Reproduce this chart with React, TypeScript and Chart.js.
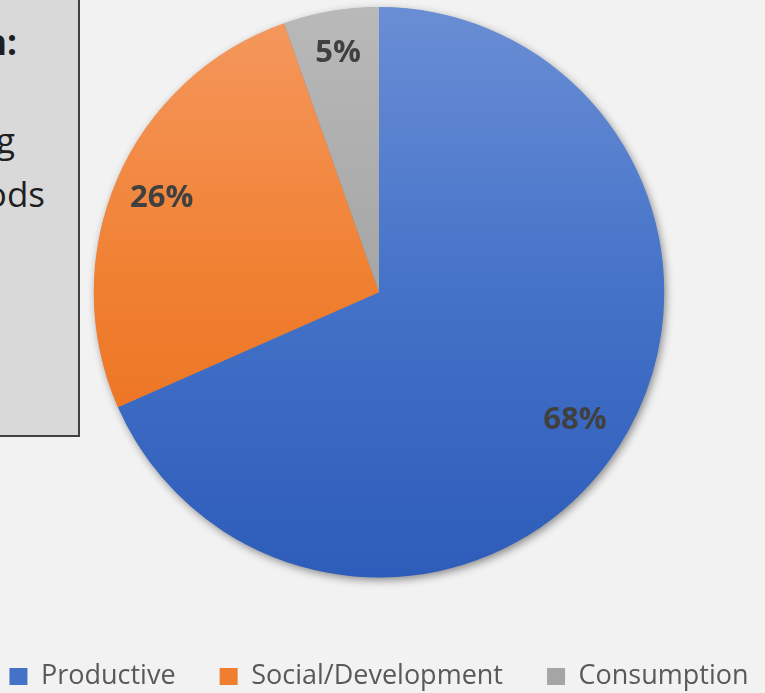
import React, { useEffect, useRef } from "react";
import { Chart, registerables } from "chart.js";

Chart.register(...registerables);

const categories = ["Productive", "Social/Development", "Consumption"];
const shares = [68.4, 26.2, 5.4];
const baseColors = ["#4472c6", "#ef7e30", "#a5a5a5"];
const gradientStops = [
  ["#6a8ed5", "#4472c8", "#2d5cba"],
  ["#f5985f", "#f07f2f", "#e8691a"],
  ["#b9b9b9", "#a5a5a5", "#8f8f8f"],
];
const labelRadius = [0.82, 0.83, 0.85];

const boxLines = [
  { text: "Loan Utilization:", bold: true, endX: 17, baseline: 55 },
  { text: "for income-generating", bold: false, endX: 15, baseline: 153 },
  { text: "and livelihoods", bold: false, endX: 45, baseline: 207 },
];

const shadowPlugin = {
  id: "pieShadow",
  beforeDatasetsDraw(chart: any) {
    const meta = chart.getDatasetMeta(0);
    const arc = meta.data[0];
    if (!arc) return;
    const { ctx } = chart;
    const props = arc.getProps(["x", "y", "outerRadius"], true);
    ctx.save();
    ctx.shadowColor = "rgba(0,0,0,0.45)";
    ctx.shadowBlur = 9;
    ctx.shadowOffsetX = 2;
    ctx.shadowOffsetY = 3;
    ctx.fillStyle = "#7f7f7f";
    ctx.beginPath();
    ctx.arc(props.x, props.y, props.outerRadius - 0.5, 0, Math.PI * 2);
    ctx.fill();
    ctx.restore();
  },
};

const labelPlugin = {
  id: "sliceLabels",
  afterDatasetsDraw(chart: any) {
    const meta = chart.getDatasetMeta(0);
    const { ctx } = chart;
    const data = chart.data.datasets[0].data as number[];
    ctx.save();
    ctx.font = "bold 31px 'Open Sans'";
    ctx.fillStyle = "#404040";
    ctx.textAlign = "center";
    ctx.textBaseline = "middle";
    meta.data.forEach((el: any, i: number) => {
      const p = el.getProps(["x", "y", "startAngle", "endAngle", "outerRadius"], true);
      const mid = (p.startAngle + p.endAngle) / 2;
      const r = p.outerRadius * labelRadius[i];
      const x = p.x + Math.cos(mid) * r;
      const y = p.y + Math.sin(mid) * r;
      ctx.fillText(Math.round(data[i]) + "%", x, y);
    });
    ctx.restore();
  },
};

export default function App() {
  const ref = useRef<HTMLCanvasElement | null>(null);

  useEffect(() => {
    if (!ref.current) return;
    const chart = new Chart(ref.current, {
      type: "pie",
      data: {
        labels: categories,
        datasets: [
          {
            data: shares,
            borderWidth: 0,
            backgroundColor: (c: any) => {
              const area = c.chart.chartArea;
              const i = c.dataIndex ?? 0;
              if (!area) return baseColors[i];
              const g = c.chart.ctx.createLinearGradient(0, area.top, 0, area.bottom);
              const s = gradientStops[i];
              g.addColorStop(0, s[0]);
              g.addColorStop(0.5, s[1]);
              g.addColorStop(1, s[2]);
              return g;
            },
          },
        ],
      },
      options: {
        responsive: false,
        animation: false,
        events: [],
        layout: { padding: { top: 7, left: 0, right: 7, bottom: 0 } },
        plugins: {
          tooltip: { enabled: false },
          legend: {
            position: "bottom",
            title: {
              display: true,
              text: " ",
              font: { size: 10, lineHeight: 1 },
              padding: { top: 73.5, bottom: 0 },
            },
            labels: {
              boxWidth: 18,
              boxHeight: 17,
              padding: 2,
              color: "#595959",
              font: { family: "'Open Sans'", size: 27 },
              generateLabels: (ch: any) => {
                const items = (Chart as any).overrides.pie.plugins.legend.labels.generateLabels(ch);
                return items.map((it: any, i: number) => ({
                  ...it,
                  text:
                    i < items.length - 1
                      ? it.text + "\u00a0\u00a0\u00a0\u00a0\u00a0\u00a0"
                      : it.text,
                  fillStyle: baseColors[i],
                  lineWidth: 0,
                  strokeStyle: "rgba(0,0,0,0)",
                }));
              },
            },
          },
        },
      },
      plugins: [shadowPlugin, labelPlugin],
    });
    return () => chart.destroy();
  }, []);

  return (
    <div
      style={{
        position: "fixed",
        left: 0,
        top: 0,
        width: 765,
        height: 693,
        overflow: "hidden",
        background: "#f2f2f2",
      }}
    >
      <div
        style={{
          position: "absolute",
          left: -10,
          top: -10,
          width: 90,
          height: 447,
          boxSizing: "border-box",
          border: "2px solid #404040",
          background: "#d9d9d9",
        }}
      />
      {boxLines.map((l, i) => (
        <span
          key={i}
          style={{
            position: "absolute",
            right: 765 - l.endX,
            top: l.baseline - 31,
            fontFamily: "'Open Sans'",
            fontSize: 35,
            lineHeight: "35px",
            fontWeight: l.bold ? 700 : 400,
            color: "#1f1f1f",
            whiteSpace: "nowrap",
          }}
        >
          {l.text}
        </span>
      ))}
      <canvas
        ref={ref}
        width={765}
        height={700}
        style={{ position: "absolute", left: 0, top: 0, width: 765, height: 700 }}
      />
    </div>
  );
}
